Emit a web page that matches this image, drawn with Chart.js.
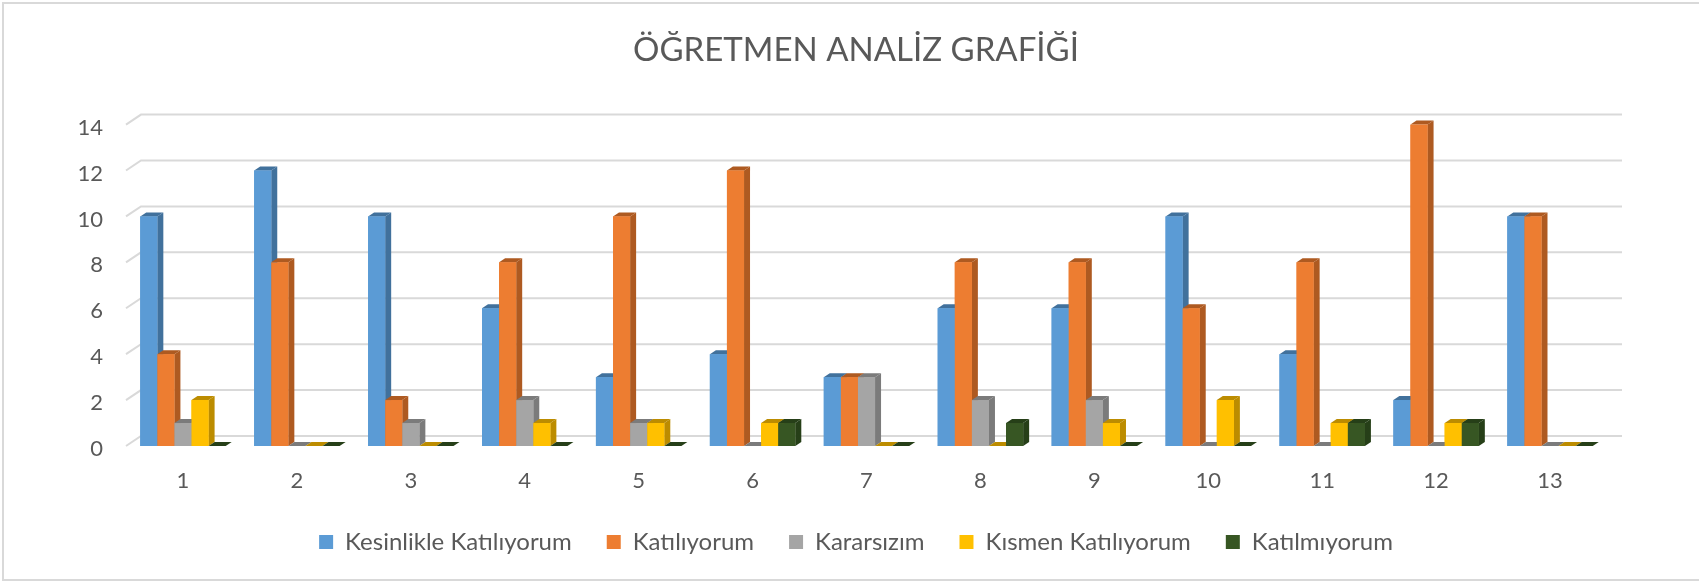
<!DOCTYPE html>
<html>
<head>
<meta charset="utf-8">
<script src="https://cdn.jsdelivr.net/npm/chart.js@4.4.1/dist/chart.umd.min.js"></script>
<style>
  html, body { margin: 0; padding: 0; background: #ffffff; }
  #wrap { width: 1699px; height: 582px; position: relative; }
</style>
</head>
<body>
<div id="wrap"><canvas id="ogretmenChart" width="1699" height="582"></canvas></div>
<script>
// Survey answers per question (1..13)
const labels = ['1', '2', '3', '4', '5', '6', '7', '8', '9', '10', '11', '12', '13'];

const answers = {
    'Kesinlikle Katılıyorum': [10, 12, 10, 6, 3, 4, 3, 6, 6, 10, 4, 2, 10],
    'Katılıyorum':            [4, 8, 2, 8, 10, 12, 3, 8, 8, 6, 8, 14, 10],
    'Kararsızım':             [1, 0, 1, 2, 1, 0, 3, 2, 2, 0, 0, 0, 0],
    'Kısmen Katılıyorum':     [2, 0, 0, 1, 1, 1, 0, 0, 1, 2, 1, 1, 0],
    'Katılmıyorum':           [0, 0, 0, 0, 0, 1, 0, 1, 0, 0, 1, 1, 0]
};

// front colour, darker colour for the side/top faces
const colors = {
    'Kesinlikle Katılıyorum': ['#5B9BD5', '#41719C'],
    'Katılıyorum':            ['#ED7D31', '#AE5A21'],
    'Kararsızım':             ['#A5A5A5', '#7B7B7B'],
    'Kısmen Katılıyorum':     ['#FFC000', '#BC8C00'],
    'Katılmıyorum':           ['#375623', '#263F18']
};

const textColor = '#595959';
const fontFamily = 'Lato, "Open Sans", sans-serif';

// Back wall grid lines + 3D look for the bars
const depthPlugin = {
    id: 'depth',
    beforeDraw(chart) {
        const ctx = chart.ctx;
        ctx.save();
        ctx.fillStyle = '#ffffff';
        ctx.fillRect(0, 0, chart.width, chart.height);
        ctx.strokeStyle = '#d9d9d9';
        ctx.lineWidth = 2;
        ctx.strokeRect(3, 3, chart.width + 10, chart.height - 5);

        const y = chart.scales.y;
        const area = chart.chartArea;
        const gx = 15, gy = -10;
        y.ticks.forEach(t => {
            const py = y.getPixelForValue(t.value);
            ctx.beginPath();
            ctx.moveTo(area.left, py);
            ctx.lineTo(area.left + gx, py + gy);
            ctx.lineTo(area.right + gx, py + gy);
            ctx.stroke();
        });
        ctx.restore();
    },
    afterDatasetsDraw(chart) {
        const ctx = chart.ctx;
        const dx = 6, dy = -4;
        const metas = chart.data.datasets.map((_, i) => chart.getDatasetMeta(i));
        ctx.save();
        for (let j = 0; j < labels.length; j++) {
            metas.forEach((meta, i) => {
                const bar = meta.data[j];
                const ds = chart.data.datasets[i];
                const left = bar.x - bar.width / 2;
                const right = bar.x + bar.width / 2;
                const top = Math.min(bar.y, bar.base);
                const base = Math.max(bar.y, bar.base);
                ctx.fillStyle = ds.sideColor;
                // side face
                ctx.beginPath();
                ctx.moveTo(right, top);
                ctx.lineTo(right + dx, top + dy);
                ctx.lineTo(right + dx, base + dy);
                ctx.lineTo(right, base);
                ctx.closePath();
                ctx.fill();
                // top face
                ctx.beginPath();
                ctx.moveTo(left, top);
                ctx.lineTo(left + dx, top + dy);
                ctx.lineTo(right + dx, top + dy);
                ctx.lineTo(right, top);
                ctx.closePath();
                ctx.fill();
                // front face again so the next bar covers this side
                ctx.fillStyle = ds.backgroundColor;
                ctx.fillRect(left, top, bar.width, base - top);
            });
        }
        ctx.restore();
    }
};

const datasets = Object.keys(answers).map(name => ({
    label: name,
    data: answers[name],
    backgroundColor: colors[name][0],
    sideColor: colors[name][1],
    borderWidth: 0,
    categoryPercentage: 0.75,
    barPercentage: 1.0
}));

const ctx = document.getElementById('ogretmenChart').getContext('2d');
const chart = new Chart(ctx, {
    type: 'bar',
    data: { labels: labels, datasets: datasets },
    plugins: [depthPlugin],
    options: {
        responsive: false,
        animation: false,
        layout: { padding: { left: 13, right: 0, top: 0, bottom: 18 } },
        plugins: {
            title: {
                display: true,
                text: 'ÖĞRETMEN ANALİZ GRAFİĞİ',
                color: textColor,
                font: { family: fontFamily, size: 33, weight: 'normal', lineHeight: 1.2 },
                padding: { top: 31, bottom: 54 }
            },
            legend: {
                position: 'bottom',
                labels: {
                    color: textColor,
                    font: { family: fontFamily, size: 24 },
                    boxWidth: 14,
                    boxHeight: 14,
                    padding: 35
                }
            },
            tooltip: { enabled: false }
        },
        scales: {
            x: {
                grid: { display: false, drawTicks: false },
                border: { display: false },
                ticks: { color: textColor, font: { family: fontFamily, size: 22 }, padding: 22 },
                afterFit(scale) { scale.height = 49; }
            },
            y: {
                min: 0,
                max: 14,
                grid: { display: false, drawTicks: false },
                border: { display: false },
                ticks: { stepSize: 2, color: textColor, font: { family: fontFamily, size: 22 }, padding: 23, labelOffset: 3 },
                afterFit(scale) { scale.width = 113; }
            },
            // empty right-hand space, keeps the plot where the original has it
            yRight: {
                position: 'right',
                display: true,
                grid: { display: false, drawTicks: false },
                border: { display: false },
                ticks: { display: false },
                afterFit(scale) { scale.width = 92; }
            }
        }
    }
});
</script>
</body>
</html>
